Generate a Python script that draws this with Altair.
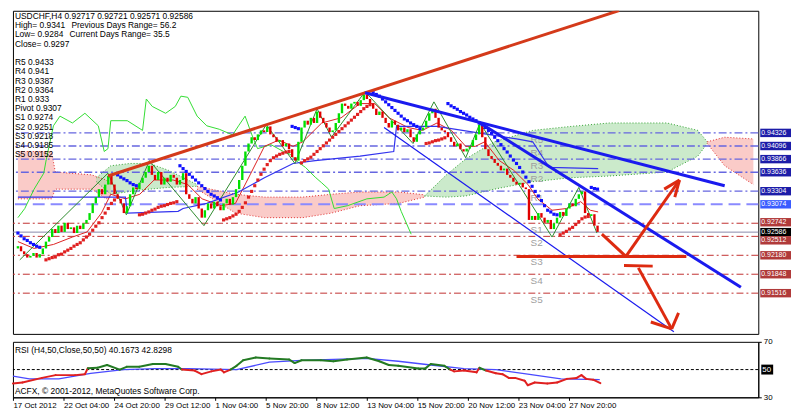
import altair as alt
import pandas as pd

W, H, RH = 752, 326, 56
XMAX = 236.0
PMIN, PMAX = 0.90802, 0.96467
FONT = "Liberation Sans"

# ---------------- candles (close of each H4 bar) ----------------
first_open = 0.9230
close_prices = [
 0.9234,0.9225,0.9220,0.9214,0.9217,0.9222,0.9214,0.9220,0.9230,
 0.9242,0.9250,0.9264,0.9257,0.9270,0.9259,0.9275,0.9264,0.9267,
 0.9257,0.9270,0.9264,0.9274,0.9280,0.9292,0.9309,
 0.9320,0.9334,0.9325,0.9342,0.9357,
 0.9342,0.9325,0.9317,0.9309,0.9292,0.9304,
 0.9325,0.9337,0.9334,0.9345,0.9354,0.9364,0.9375,
 0.9359,0.9350,0.9364,0.9342,0.9354,0.9347,0.9359,0.9354,0.9342,0.9350,0.9362,
 0.9325,0.9317,0.9309,0.9320,0.9300,0.9284,0.9297,
 0.9309,0.9300,0.9312,0.9304,0.9297,0.9309,0.9317,0.9307,0.9320,0.9334,
 0.9350,0.9375,0.9400,0.9414,0.9425,0.9420,0.9430,
 0.9437,0.9434,0.9444,0.9430,0.9425,0.9417,0.9420,0.9409,0.9414,0.9404,
 0.9390,0.9384,0.9417,0.9442,
 0.9454,0.9447,0.9459,0.9450,0.9470,0.9459,0.9450,0.9442,0.9434,
 0.9437,0.9450,0.9467,0.9484,0.9480,0.9475,0.9484,0.9487,0.9480,0.9490,
 0.9500,0.9492,0.9484,0.9475,0.9464,0.9470,
 0.9459,0.9450,0.9442,0.9454,0.9447,0.9437,0.9442,0.9434,0.9439,0.9425,0.9417,
 0.9430,0.9437,0.9442,0.9454,0.9467,0.9475,
 0.9459,0.9442,0.9437,0.9434,0.9425,0.9417,
 0.9409,0.9414,0.9404,0.9400,0.9405,0.9409,0.9420,0.9430,
 0.9447,0.9425,0.9404,0.9392,0.9387,0.9380,
 0.9375,0.9367,0.9370,0.9359,0.9354,0.9347,0.9342,0.9345,0.9337,0.9334,
 0.9280,0.9287,0.9280,0.9292,0.9284,0.9275,0.9280,
 0.9264,0.9274,0.9284,0.9294,0.9287,0.9300,0.9309,0.9304,0.9317,0.9325,
 0.9330,0.9292,0.9287,0.9290,0.9270,0.9259,
]

# ---------------- parabolic SAR runs (start bar, side, values) ----------------
sar_a = [0.9257,0.9252,0.9247,0.9244,0.9240,0.9237,0.9234,0.9232]
sar_b = [0.9210,0.9212,0.9214,0.9215,0.9219,0.9220,0.9224,0.9227,0.9230,0.9234,0.9237,0.9240,
         0.9245,0.9250,0.9255,0.9262,0.9269,0.9275,0.9284,0.9292,0.9300,0.9309,0.9315]
sar_c = [0.9359,0.9355,0.9352,0.9349,0.9345,0.9342,0.9340]
sar_d = [0.9289,0.9290,0.9292,0.9294,0.9297,0.9299,0.9302,0.9304,0.9305,0.9307,0.9309,0.9310,0.9312]
sar_e = [0.9375,0.9370,0.9365,0.9360,0.9355,0.9350,0.9345,0.9340,0.9335,0.9330,0.9325,0.9322,0.9319,0.9315]
sar_f = [0.9280,0.9282,0.9284,0.9287,0.9290,0.9295,0.9302,0.9310,0.9320,0.9330,0.9340,0.9350,0.9360,
         0.9369,0.9377,0.9384,0.9389,0.9392,0.9395,0.9397,0.9399,0.9400]
sar_g = [0.9444,0.9442,0.9440]
sar_h = [0.9380,0.9384,0.9387,0.9390,0.9395,0.9400,0.9405,0.9410,0.9415,0.9420,0.9425,0.9430,0.9435,
         0.9440,0.9445,0.9450,0.9455,0.9460,0.9465,0.9470,0.9475,0.9479,0.9482]
sar_i = [0.9503,0.9500,0.9497,0.9492,0.9487,0.9482,0.9477,0.9472,0.9467,0.9462,0.9457,0.9454,0.9450,
         0.9447,0.9444,0.9440]
sar_j = [0.9414,0.9415,0.9417,0.9419,0.9420,0.9422,0.9424]
sar_k = [0.9484,0.9480,0.9477,0.9474,0.9470,0.9467,0.9464,0.9460,0.9457,0.9454,0.9450,0.9447,0.9442,
         0.9437,0.9432,0.9425,0.9419,0.9412,0.9405,0.9399,0.9392,0.9385,0.9379,0.9372,0.9364,0.9355,
         0.9347,0.9339,0.9330,0.9322,0.9314,0.9305,0.9297,0.9294,0.9290,0.9289]
sar_l = [0.9254,0.9257,0.9260,0.9264,0.9267,0.9272,0.9277,0.9282,0.9285,0.9286]
sar_m = [0.9337,0.9335,0.9334]
sar_runs = [(0,"above",sar_a),(9,"below",sar_b),(32,"above",sar_c),(39,"below",sar_d),(52,"above",sar_e),
            (66,"below",sar_f),(88,"above",sar_g),(91,"below",sar_h),(114,"above",sar_i),(131,"below",sar_j),
            (138,"above",sar_k),(174,"below",sar_l),(184,"above",sar_m)]

# ---------------- Ichimoku lines ----------------
chikou_bar = [0,2.2,5.2,8.3,9.2,10.5,11.4,13.5,17.5,21.5,25.8,27.7,28.9,29.8,35.1,40,41.2,43.1,47.4,50.5,
              52.3,54.5,57.5,60.6,64.6,68.9,70.8,72.9,75.1,76.9,81.2,85.2,87.4,89.2,92.3,95.4,97.5,99.7,
              101.5,105.8,112,117.5,120,121.5,123,126.2]
chikou_p = [0.9284,0.9300,0.9334,0.9362,0.9389,0.9422,0.9445,0.9462,0.9450,0.9467,0.9445,0.9400,0.9405,
            0.9454,0.9454,0.9437,0.9492,0.9479,0.9467,0.9479,0.9497,0.9495,0.9462,0.9445,0.9439,0.9429,
            0.9445,0.9462,0.9429,0.9405,0.9412,0.9400,0.9395,0.9384,0.9372,0.9355,0.9345,0.9334,0.9300,
            0.9305,0.9317,0.9320,0.9329,0.9317,0.9295,0.9255]
tenkan_bar = [0,5.2,11.4,17.5,22.2,26.8,29.8,34.5,39.1,43.7,49.8,54.5,59.1,65.2,69.8,74.5,79.1,83.7,88.3,
              91.4,97.5,103.7,109.8,114.5,119.1,125.2,129.8,134.5,139.1,143.7,146.8,149.8,154.5,159.1,
              163.7,166.8,171.4,176,180.6,183.7,186.2]
tenkan_p = [0.9242,0.9230,0.9237,0.9250,0.9259,0.9292,0.9325,0.9317,0.9325,0.9350,0.9350,0.9342,0.9317,
            0.9305,0.9309,0.9359,0.9409,0.9420,0.9409,0.9417,0.9450,0.9459,0.9484,0.9484,0.9459,0.9442,
            0.9437,0.9450,0.9437,0.9409,0.9409,0.9417,0.9384,0.9367,0.9342,0.9317,0.9297,0.9300,0.9312,
            0.9297,0.9294]
kijun_bar = [0,34.5,35.1,51.4,53,60.6,70.8,79.1,88.3,95.4,109.8,120.6,121.5,134.5,160,165.2,170.5,186.2]
kijun_p = [0.9320,0.9320,0.9292,0.9295,0.9300,0.9309,0.9329,0.9354,0.9379,0.9384,0.9392,0.9400,0.9444,
           0.9444,0.9422,0.9417,0.9372,0.9370]

# cloud segments: (kind, bars, upper span, lower span)
cloud_r1 = ([0,10.8,12,23.7,28.3,29.8], [0.9400,0.9400,0.9364,0.9359,0.9350,0.9342],
            [0.9317,0.9317,0.9334,0.9334,0.9317,0.9320])
cloud_g1 = ([25.2,29.8,36,42.2,48.3,57.5], [0.9354,0.9375,0.9379,0.9379,0.9367,0.9342],
            [0.9347,0.9325,0.9330,0.9334,0.9337,0.9339])
cloud_r2 = ([57.5,69.8,79.1,91.4,100.6,109.8,122.2,130.5],
            [0.9339,0.9325,0.9320,0.9320,0.9325,0.9329,0.9329,0.9324],
            [0.9334,0.9292,0.9284,0.9284,0.9292,0.9305,0.9309,0.9320])
cloud_g2 = ([130.5,137.5,143.7,152.9,165.2,177.5,189.8,208.3,218.2,221.2],
            [0.9322,0.9359,0.9387,0.9417,0.9437,0.9444,0.9450,0.9450,0.9437,0.9417],
            [0.9322,0.9320,0.9322,0.9334,0.9347,0.9354,0.9357,0.9364,0.9392,0.9414])
cloud_r3 = ([221.2,226.8,236], [0.9417,0.9425,0.9422], [0.9414,0.9375,0.9342])
clouds = [("r", cloud_r1), ("g", cloud_g1), ("r", cloud_r2), ("g", cloud_g2), ("r", cloud_r3)]

zigzag_bar = [0.6,28.9,34.8,42.2,59.7,79.7,88.9,96,100.6,111.4,126.8,133.5,143.7,148.3,171.4,180,185.8]
zigzag_p = [0.9210,0.9362,0.9289,0.9384,0.9270,0.9447,0.9379,0.9475,0.9425,0.9505,0.9414,0.9487,0.9389,
            0.9450,0.9250,0.9337,0.9257]

# ---------------- pivot levels ----------------
level_names = ["R5","R4","R3","R2","R1","Pivot","S1","S2","S3","S4","S5"]
level_vals = [0.94326,0.94096,0.93866,0.93636,0.93304,0.93074,0.92742,0.92512,0.92180,0.91848,0.91516]
current_price = 0.92586

# ---------------- drawn objects ----------------
red_trend = ([28.9,192.9], [0.9357,0.9647])
blue_thick_1 = ([111.4,226.8], [0.9503,0.9340])
blue_thick_2 = ([148.3,232.0], [0.9450,0.9162])
blue_thin = ([117.5,210.5], [0.9442,0.9084])
arrow_segments = [
    ([160.0,214.5],[0.9216,0.9216]),
    ([187.4,195.1],[0.9255,0.9216]),
    ([195.1,212.3],[0.9216,0.9350]),
    ([212.3,207.4],[0.9350,0.9334]),
    ([212.3,210.8],[0.9350,0.9320]),
    ([194.5,203.7],[0.9200,0.9199]),
    ([199.1,209.8],[0.9196,0.9089]),
    ([209.8,203.1],[0.9089,0.9101]),
    ([209.8,212.0],[0.9089,0.9117]),
]

# ---------------- RSI ----------------
rsi_bar = [0,3,9.2,13.5,19.7,22.8,23.7,26.8,29.8,33.8,36,40,44.3,48.3,52.3,53.5,57.5,59.7,62.8,65.8,
           66.8,68.9,70.8,72.9,76.9,81.2,87.4,89.2,91.4,97.5,101.5,105.8,112,116,119,122,128.3,130.5,
           132.3,136.6,138.5,139.7,142.8,146.8,147.7,149.8,152.9,155,157,159,162,163,165.2,169.2,172.3,
           175.4,178.5,180,181.5,183.7,186]
rsi_val = [40,40.7,44,46,46,46.7,51,51.3,53.3,50,52,52,54,54,52,50,49.3,46.7,48.7,50,48,50,52.7,56.7,
           58.7,58,57.3,54.7,56.7,56.7,56,57.3,58.7,56,53.3,52.7,50.7,50.7,54,52.7,50,48.7,49.3,48,51.3,
           49.3,47.3,46.7,44,44,42,38.7,40.7,40,40.7,43.3,44,46,43.3,42.7,40.2]
ma_bar = [0,5.2,14.5,24.6,35,45,55.4,70.8,81.2,91.4,101.5,112,122,132.3,142.8,152.9,163,173.5,185.8]
ma_val = [45.3,43.3,43.3,47.3,50,50.7,50.7,50,55.3,56.7,57.3,58,56,53.3,50.7,50,46.7,43.3,42.8]

time_labels = ["17 Oct 2012","22 Oct 04:00","24 Oct 20:00","29 Oct 12:00","1 Nov 04:00","5 Nov 20:00",
               "8 Nov 12:00","13 Nov 04:00","15 Nov 20:00","20 Nov 12:00","23 Nov 04:00","27 Nov 20:00"]
price_ticks = [0.9625,0.9581,0.9536,0.9491,0.9447,0.9134,0.9089]

info_lines = [
    (2, 5.3, "USDCHF,H4  0.92717 0.92721 0.92571 0.92586"),
    (2, 14.6, "High= 0.9341"), (59, 14.6, "Previous Days Range= 56.2"),
    (2, 23.9, "Low= 0.9284"), (57, 23.9, "Current Days Range= 35.5"),
    (2, 33.2, "Close= 0.9297"),
    (2, 51.8, "R5 0.9433"), (2, 61.1, "R4 0.941"), (2, 70.4, "R3 0.9387"), (2, 79.7, "R2 0.9364"),
    (2, 89.0, "R1 0.933"), (2, 98.3, "Pivot 0.9307"), (2, 107.6, "S1 0.9274"), (2, 116.9, "S2 0.9251"),
    (2, 126.2, "S3 0.9218"), (2, 135.5, "S4 0.9185"), (2, 144.8, "S5 0.9152"),
]

# ================= styles =================
CANDLE_COL = {"up": "#00e000", "dn": "#e00000"}
SAR_COL = {"above": "#1010ff", "below": "#e02020"}
CLOUD_FILL = {"r": "#f6a9a3", "g": "#a9dca9"}
CLOUD_EDGE = {"r": "#e03030", "g": "#30a030"}
BOX_COL = {"R": "#1c1ca8", "P": "#3a5cff", "S": "#b03a3a", "C": "#000000"}
RSI_COL = {"up": "#237a23", "dn": "#e02020"}

# ================= build frames =================
opens = [first_open] + close_prices[:-1]
df_c = pd.DataFrame({"bar": list(range(len(close_prices))), "o": opens, "c": close_prices})
df_c["col"] = [CANDLE_COL["up"] if c >= o else CANDLE_COL["dn"] for o, c in zip(df_c["o"], df_c["c"])]

sar_rows = []
for start, side, vals in sar_runs:
    for k, v in enumerate(vals):
        sar_rows.append({"bar": start + k, "p": v, "col": SAR_COL[side]})
df_sar = pd.DataFrame(sar_rows)

cloud_rows = []
for idx, (kind, (bars, up, lo)) in enumerate(clouds):
    for b, u, l in zip(bars, up, lo):
        cloud_rows.append({"seg": idx, "bar": b, "u": u, "l": l,
                           "fill": CLOUD_FILL[kind], "edge": CLOUD_EDGE[kind]})
df_cloud = pd.DataFrame(cloud_rows)

def ldf(bars, ps):
    return pd.DataFrame({"bar": bars, "p": ps})

xs = alt.Scale(domain=[0, XMAX], nice=False, zero=False)
ys = alt.Scale(domain=[PMIN, PMAX], nice=False, zero=False)
X = alt.X("bar:Q", scale=xs, axis=None)
Y = alt.Y("p:Q", scale=ys, axis=None)

yaxis = alt.Axis(orient="right", values=price_ticks, format=".5f", title=None, grid=False,
                 tickSize=3, labelFontSize=8, labelFont=FONT, labelPadding=2,
                 domainColor="#000", tickColor="#000", labelColor="#000")

cloud_area = alt.Chart(df_cloud).mark_area(opacity=0.6, clip=True).encode(
    x=X, y=alt.Y("u:Q", scale=ys, axis=yaxis), y2="l:Q", detail="seg:N",
    color=alt.Color("fill:N", scale=None))
cloud_edge_u = alt.Chart(df_cloud).mark_line(strokeDash=[1, 2], strokeWidth=1, clip=True).encode(
    x=X, y=alt.Y("u:Q", scale=ys, axis=None), detail="seg:N", color=alt.Color("edge:N", scale=None))
cloud_edge_l = alt.Chart(df_cloud).mark_line(strokeDash=[1, 2], strokeWidth=1, clip=True).encode(
    x=X, y=alt.Y("l:Q", scale=ys, axis=None), detail="seg:N", color=alt.Color("edge:N", scale=None))

df_lv = pd.DataFrame({"name": level_names, "p": level_vals})
df_r = df_lv[df_lv["name"].str.startswith("R")]
df_s = df_lv[df_lv["name"].str.startswith("S")]
df_p = df_lv[df_lv["name"] == "Pivot"]
r_lines = alt.Chart(df_r).mark_rule(color="#6666e0", strokeWidth=1.3, strokeDash=[8, 3, 2, 3]).encode(y=Y)
p_line = alt.Chart(df_p).mark_rule(color="#8a8aff", strokeWidth=2, strokeDash=[12, 6]).encode(y=Y)
s_lines = alt.Chart(df_s).mark_rule(color="#c03030", strokeWidth=1, strokeDash=[7, 3, 2, 3]).encode(y=Y)
cur_line = alt.Chart(pd.DataFrame({"p": [current_price]})).mark_rule(color="#8888aa", strokeWidth=1).encode(y=Y)
lv_text = alt.Chart(df_lv[df_lv["name"] != "Pivot"].assign(bar=164.5)).mark_text(
    align="left", baseline="middle", dy=7, fontSize=10, font=FONT, color="#a0a0a0").encode(
    x=X, y=Y, text="name:N")

chikou = alt.Chart(ldf(chikou_bar, chikou_p)).mark_line(color="#33dd33", strokeWidth=1).encode(x=X, y=Y)
tenkan = alt.Chart(ldf(tenkan_bar, tenkan_p)).mark_line(color="#dd2222", strokeWidth=1).encode(x=X, y=Y)
kijun = alt.Chart(ldf(kijun_bar, kijun_p)).mark_line(color="#3333ee", strokeWidth=1.2).encode(x=X, y=Y)
zigzag = alt.Chart(ldf(zigzag_bar, zigzag_p)).mark_line(color="#2e8b2e", strokeWidth=1).encode(x=X, y=Y)

candles = alt.Chart(df_c).mark_bar(size=2.4).encode(
    x=X, y=alt.Y("o:Q", scale=ys, axis=None), y2="c:Q", color=alt.Color("col:N", scale=None))

sar = alt.Chart(df_sar).mark_square(size=10, opacity=1).encode(
    x=X, y=Y, color=alt.Color("col:N", scale=None))

red_tr = alt.Chart(ldf(*red_trend)).mark_line(color="#d43a1a", strokeWidth=3, clip=True).encode(x=X, y=Y)
bt1 = alt.Chart(ldf(*blue_thick_1)).mark_line(color="#1a1aee", strokeWidth=3, clip=True).encode(x=X, y=Y)
bt2 = alt.Chart(ldf(*blue_thick_2)).mark_line(color="#1a1aee", strokeWidth=3, clip=True).encode(x=X, y=Y)
bthin = alt.Chart(ldf(*blue_thin)).mark_line(color="#1a1aee", strokeWidth=1.2, clip=True).encode(x=X, y=Y)

arr_rows = []
for k, (bs, ps) in enumerate(arrow_segments):
    for b, p in zip(bs, ps):
        arr_rows.append({"seg": k, "bar": b, "p": p})
arrows = alt.Chart(pd.DataFrame(arr_rows)).mark_line(color="#dd2a10", strokeWidth=3, clip=True).encode(
    x=X, y=Y, detail="seg:N")

# right-side value boxes (current price box nudged, S2 nudged down so all stay readable)
box_vals = level_vals[:7] + [current_price] + level_vals[7:]
box_kind = ["R", "R", "R", "R", "R", "P", "S", "C", "S", "S", "S", "S"]
box_nudge = [0, 0, 0, 0, 0, 0, -1, 0, 4, 0, 0, 0]
df_box = pd.DataFrame({"p": box_vals, "col": [BOX_COL[k] for k in box_kind], "dy": box_nudge})
df_box["txt"] = [f"{v:.5f}" for v in box_vals]
box_layers = []
for nud in sorted(set(box_nudge)):
    sub = df_box[df_box["dy"] == nud]
    box_layers.append(alt.Chart(sub).mark_tick(orient="horizontal", size=31, thickness=8.5, opacity=1,
                                               yOffset=nud).encode(
        x=alt.value(W + 17.5), y=Y, color=alt.Color("col:N", scale=None)))
for nud in sorted(set(box_nudge)):
    sub = df_box[df_box["dy"] == nud]
    box_layers.append(alt.Chart(sub).mark_text(align="left", baseline="middle", fontSize=7, font=FONT,
                                               color="white", dy=nud).encode(
        x=alt.value(W + 3), y=Y, text="txt:N"))

df_info = pd.DataFrame(info_lines, columns=["px", "py", "t"])
info = alt.Chart(df_info).mark_text(align="left", baseline="middle", fontSize=8.5, font=FONT, color="#000").encode(
    x=alt.X("px:Q", scale=None), y=alt.Y("py:Q", scale=None), text="t:N")

main = alt.layer(cloud_area, cloud_edge_u, cloud_edge_l, r_lines, p_line, s_lines, cur_line, lv_text,
                 chikou, tenkan, kijun, zigzag, candles, sar, red_tr, bt1, bt2, bthin, arrows,
                 *box_layers, info).properties(width=W, height=H)

# ================= RSI panel =================
rs = alt.Scale(domain=[30, 70], nice=False, zero=False)
rsi_rows = []
for i in range(len(rsi_bar) - 1):
    col = RSI_COL["up"] if (rsi_val[i] + rsi_val[i + 1]) / 2 >= 50 else RSI_COL["dn"]
    rsi_rows.append({"seg": i, "bar": rsi_bar[i], "v": rsi_val[i], "col": col})
    rsi_rows.append({"seg": i, "bar": rsi_bar[i + 1], "v": rsi_val[i + 1], "col": col})
df_rsi = pd.DataFrame(rsi_rows)

label_expr = "[" + ",".join("'" + s + "'" for s in time_labels) + "][round(datum.value/16)]"
xaxis = alt.Axis(values=[16 * k for k in range(len(time_labels))], labelExpr=label_expr, title=None,
                 grid=False, labelAlign="left", labelFontSize=8, labelFont=FONT, tickSize=3,
                 labelPadding=1, domainColor="#000", tickColor="#000", labelColor="#000")
raxis = alt.Axis(orient="right", values=[30, 70], title=None, grid=False, tickSize=3, labelFontSize=8,
                 labelFont=FONT, labelPadding=2, domainColor="#000", tickColor="#000", labelColor="#000")

rsi_line = alt.Chart(df_rsi).mark_line(strokeWidth=2, strokeCap="round").encode(
    x=alt.X("bar:Q", scale=xs, axis=xaxis), y=alt.Y("v:Q", scale=rs, axis=raxis), detail="seg:N",
    color=alt.Color("col:N", scale=None))
ma_line = alt.Chart(pd.DataFrame({"bar": ma_bar, "v": ma_val})).mark_line(color="#4a4aff", strokeWidth=1.3).encode(
    x=alt.X("bar:Q", scale=xs), y=alt.Y("v:Q", scale=rs))
mid = alt.Chart(pd.DataFrame({"v": [50]})).mark_rule(color="#000", strokeWidth=1, strokeDash=[3, 2]).encode(
    y=alt.Y("v:Q", scale=rs))
mid_box = alt.Chart(pd.DataFrame({"v": [50]})).mark_tick(orient="horizontal", size=12, thickness=10,
                                                        color="#000", opacity=1).encode(
    x=alt.value(W + 9), y=alt.Y("v:Q", scale=rs))
mid_txt = alt.Chart(pd.DataFrame({"v": [50], "t": ["50"]})).mark_text(align="left", baseline="middle", fontSize=8,
                                                                    font=FONT, color="white").encode(
    x=alt.value(W + 4), y=alt.Y("v:Q", scale=rs), text="t:N")
rsi_texts = alt.Chart(pd.DataFrame({"px": [2, 2], "py": [8, 50],
                                    "t": ["RSI (H4,50,Close,50,50) 40.1673 42.8298",
                                          "ACFX, \u00a9 2001-2012, MetaQuotes Software Corp."]})).mark_text(
    align="left", baseline="middle", fontSize=8.5, font=FONT, color="#000").encode(
    x=alt.X("px:Q", scale=None), y=alt.Y("py:Q", scale=None), text="t:N")

rsi = alt.layer(mid, ma_line, rsi_line, mid_box, mid_txt, rsi_texts).properties(width=W, height=RH)

chart = alt.vconcat(main, rsi, spacing=2).properties(
    padding={"left": 0, "top": 0, "right": 0, "bottom": 0}
).configure(background="white").configure_view(stroke="#000", strokeWidth=1)

chart.save("out.html", embed_options={"renderer": "svg", "actions": False})
